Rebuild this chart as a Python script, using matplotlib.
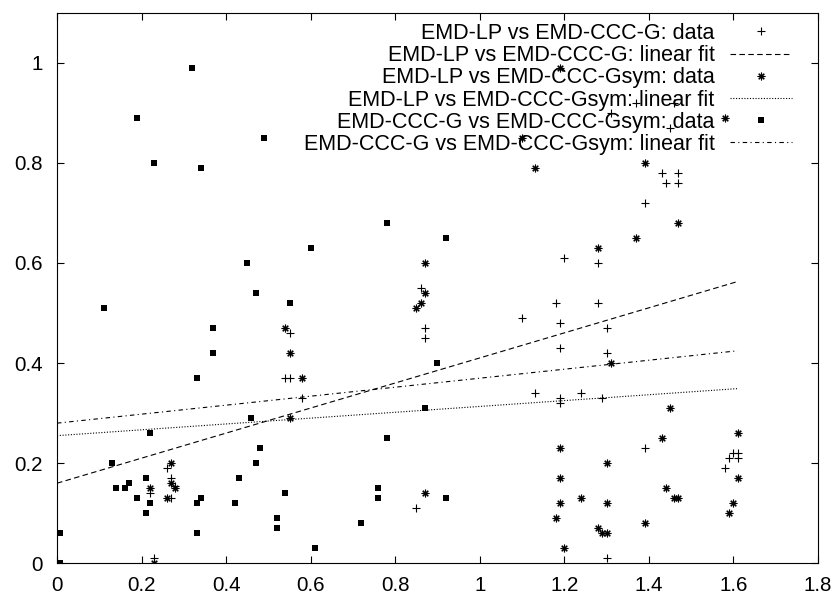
import matplotlib
matplotlib.use('Agg')
import matplotlib.pyplot as plt
import numpy as np

plt.rcParams['font.family'] = ['Liberation Sans', 'DejaVu Sans']

###DATA###
# EMD-LP vs EMD-CCC-G (plus)
lp_g_x = [0.23, 0.22, 0.26, 0.27, 0.28, 0.27, 0.55, 0.54, 0.55, 0.58, 0.85, 0.86,
          0.87, 0.87, 1.10, 1.13, 1.18, 1.19, 1.19, 1.19, 1.19, 1.20, 1.24, 1.28,
          1.28, 1.29, 1.30, 1.30, 1.30, 1.31, 1.37, 1.39, 1.39, 1.43, 1.44, 1.45,
          1.46, 1.47, 1.47, 1.58, 1.59, 1.60, 1.61, 1.61]
lp_g_y = [0.01, 0.14, 0.19, 0.17, 0.155, 0.13, 0.46, 0.37, 0.37, 0.33, 0.11, 0.55,
          0.47, 0.45, 0.49, 0.34, 0.52, 0.48, 0.43, 0.33, 0.32, 0.61, 0.34, 0.60,
          0.52, 0.33, 0.47, 0.42, 0.01, 0.90, 0.92, 0.72, 0.23, 0.78, 0.76, 0.87,
          0.92, 0.78, 0.76, 0.19, 0.21, 0.22, 0.22, 0.21]

# EMD-LP vs EMD-CCC-Gsym (star)
lp_gs_x = [0.23, 0.22, 0.27, 0.27, 0.28, 0.26, 0.54, 0.55, 0.55, 0.58, 0.85, 0.86,
           0.87, 0.87, 0.87, 1.10, 1.13, 1.19, 1.18, 1.19, 1.19, 1.19, 1.20, 1.24,
           1.28, 1.28, 1.29, 1.30, 1.30, 1.30, 1.31, 1.37, 1.39, 1.39, 1.43, 1.44,
           1.45, 1.46, 1.47, 1.47, 1.58, 1.59, 1.60, 1.61, 1.61]
lp_gs_y = [0.0, 0.15, 0.20, 0.16, 0.15, 0.13, 0.47, 0.42, 0.29, 0.37, 0.51, 0.52,
           0.54, 0.60, 0.14, 0.85, 0.79, 0.99, 0.09, 0.23, 0.17, 0.12, 0.03, 0.13,
           0.63, 0.07, 0.06, 0.06, 0.20, 0.12, 0.40, 0.65, 0.80, 0.08, 0.25, 0.15,
           0.31, 0.13, 0.13, 0.68, 0.89, 0.10, 0.12, 0.26, 0.17]

# EMD-CCC-G vs EMD-CCC-Gsym (square)
g_gs_x = [0.008, 0.008, 0.11, 0.13, 0.14, 0.16, 0.17, 0.19, 0.19, 0.21, 0.21, 0.22,
          0.22, 0.23, 0.32, 0.33, 0.33, 0.33, 0.34, 0.34, 0.37, 0.37, 0.42, 0.43,
          0.45, 0.46, 0.47, 0.47, 0.48, 0.49, 0.52, 0.52, 0.54, 0.55, 0.60, 0.61,
          0.72, 0.76, 0.76, 0.78, 0.78, 0.87, 0.90, 0.92, 0.92]
g_gs_y = [0.06, 0.0, 0.51, 0.20, 0.15, 0.15, 0.16, 0.13, 0.89, 0.17, 0.10, 0.12,
          0.26, 0.80, 0.99, 0.37, 0.12, 0.06, 0.13, 0.79, 0.47, 0.42, 0.12, 0.17,
          0.60, 0.29, 0.54, 0.20, 0.23, 0.85, 0.09, 0.07, 0.14, 0.52, 0.63, 0.03,
          0.08, 0.15, 0.13, 0.68, 0.25, 0.31, 0.40, 0.65, 0.13]

# linear fits (intercept, slope)
fit_lp_g = (0.160, 0.2503)
fit_lp_gs = (0.255, 0.0584)
fit_g_gs = (0.280, 0.0898)

xticks = [0, 0.2, 0.4, 0.6, 0.8, 1, 1.2, 1.4, 1.6, 1.8]
xtick_labels = ['0', '0.2', '0.4', '0.6', '0.8', '1', '1.2', '1.4', '1.6', '1.8']
yticks = [0, 0.2, 0.4, 0.6, 0.8, 1]
ytick_labels = ['0', '0.2', '0.4', '0.6', '0.8', '1']


###PLOT###
fig = plt.figure(figsize=(8.39, 5.96), dpi=100)
ax = fig.add_axes([57/839, 32.7/596, 761/839, 550.6/596])

xfit = np.array([0, max(lp_g_x)])

ax.plot(lp_g_x, lp_g_y, ls='none', marker='+', ms=5.5, mew=0.8, color='k',
        label='EMD-LP vs EMD-CCC-G: data')
ax.plot(xfit, fit_lp_g[0] + fit_lp_g[1]*xfit, color='k', lw=0.8,
        ls=(0, (5, 3)), label='EMD-LP vs EMD-CCC-G: linear fit')
ax.plot(lp_gs_x, lp_gs_y, ls='none', marker=(8, 2, 0), ms=5.5, mew=0.8, color='k',
        label='EMD-LP vs EMD-CCC-Gsym: data')
ax.plot(xfit, fit_lp_gs[0] + fit_lp_gs[1]*xfit, color='k', lw=0.8,
        ls=(0, (1, 1.5)), label='EMD-LP vs EMD-CCC-Gsym: linear fit')
ax.plot(g_gs_x, g_gs_y, ls='none', marker='s', ms=5, mew=0, color='k',
        label='EMD-CCC-G vs EMD-CCC-Gsym: data')
ax.plot(xfit, fit_g_gs[0] + fit_g_gs[1]*xfit, color='k', lw=0.8,
        ls=(0, (4, 3, 1, 3)), label='EMD-CCC-G vs EMD-CCC-Gsym: linear fit')

ax.set_xlim(0, 1.8)
ax.set_ylim(0, 1.1)
ax.set_xticks(xticks)
ax.set_xticklabels(xtick_labels)
ax.set_yticks(yticks)
ax.set_yticklabels(ytick_labels)
ax.tick_params(direction='in', top=True, right=True, length=4.8, width=0.8,
               labelsize=14.8, pad=9)
ax.tick_params(axis='y', pad=10)
for s in ax.spines.values():
    s.set_linewidth(0.8)

leg = ax.legend(loc='upper right', bbox_to_anchor=(792/839, 1 - 23/596),
                bbox_transform=fig.transFigure, frameon=False, markerfirst=False,
                fontsize=15.5, handlelength=2.9, handletextpad=0.7,
                labelspacing=0.055, borderpad=0, borderaxespad=0)

fig.savefig('out.png', dpi=100)
